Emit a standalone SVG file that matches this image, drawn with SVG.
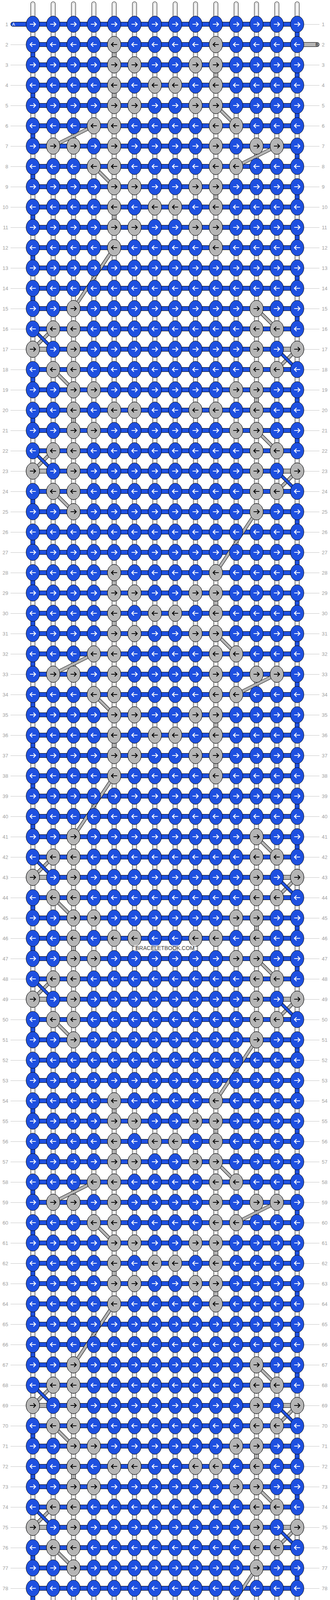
<svg xmlns="http://www.w3.org/2000/svg" width="844" height="4804" viewBox="0 0 844 4804">
<style>
.kb{fill:#1e50e0;stroke:#000;stroke-width:1}
.kg{fill:#b5b5b5;stroke:#000;stroke-width:1}
.aw{fill:none;stroke:#fff;stroke-width:2.2}
.ak{fill:none;stroke:#000;stroke-width:2.2}
.o{fill:none;stroke:#000;stroke-width:12;stroke-linejoin:round;stroke-linecap:round}
.sb{fill:none;stroke:#1e50e0;stroke-width:10;stroke-linejoin:round;stroke-linecap:round}
.sg{fill:none;stroke:#b5b5b5;stroke-width:10;stroke-linejoin:round;stroke-linecap:round}
.to{fill:none;stroke:#000;stroke-width:8.5;stroke-linecap:round}
.tb{fill:none;stroke:#1e50e0;stroke-width:6.5;stroke-linecap:round}
.tg{fill:none;stroke:#b5b5b5;stroke-width:6.5;stroke-linecap:round}
.v1{fill:none;stroke:#000;stroke-width:12;stroke-linecap:round}
.v2{fill:none;stroke:#fff;stroke-width:10;stroke-linecap:round}
.v3{fill:none;stroke:#b0b0b0;stroke-width:6;stroke-linecap:round}
.v4{fill:none;stroke:#fff;stroke-width:4;stroke-linecap:round}
.num{font-family:"Liberation Sans",Arial,sans-serif;font-size:13px;fill:#a0a0a0}
.sl{font-family:"Liberation Sans",Arial,sans-serif;font-size:11px}
</style>
<defs>
<pattern id="gl" patternUnits="userSpaceOnUse" x="0" y="10" width="10" height="52"><rect width="10" height="1" fill="#c4c4c4"/></pattern>
<path id="ar" d="M-7.5 0H6M1.5-5.5L7 0L1.5 5.5"/>
<path id="al" d="M7.5 0H-6M-1.5-5.5L-7 0L-1.5 5.5"/>
<g id="bR"><ellipse class="kb" rx="17.2" ry="21"/><use href="#ar" class="aw"/></g>
<g id="bL"><ellipse class="kb" rx="17.2" ry="21"/><use href="#al" class="aw"/></g>
<g id="gR"><ellipse class="kg" rx="17.2" ry="21"/><use href="#ar" class="ak"/></g>
<g id="gL"><ellipse class="kg" rx="17.2" ry="21"/><use href="#al" class="ak"/></g>
<g id="RR"><use href="#bR" x="84"/><use href="#bR" x="136"/><use href="#bR" x="188"/><use href="#bR" x="240"/><use href="#bR" x="292"/><use href="#bR" x="344"/><use href="#bR" x="396"/><use href="#bR" x="448"/><use href="#bR" x="500"/><use href="#bR" x="552"/><use href="#bR" x="604"/><use href="#bR" x="656"/><use href="#bR" x="708"/><use href="#bR" x="760"/></g>
<g id="RL"><use href="#bL" x="84"/><use href="#bL" x="136"/><use href="#bL" x="188"/><use href="#bL" x="240"/><use href="#bL" x="292"/><use href="#bL" x="344"/><use href="#bL" x="396"/><use href="#bL" x="448"/><use href="#bL" x="500"/><use href="#bL" x="552"/><use href="#bL" x="604"/><use href="#bL" x="656"/><use href="#bL" x="708"/><use href="#bL" x="760"/></g>
<path id="vs" d="M84 10V4792M136 10V4792M188 10V4792M240 10V4792M292 10V4792M344 10V4792M396 10V4792M448 10V4792M500 10V4792M552 10V4792M604 10V4792M656 10V4792M708 10V4792M760 10V4792"/>
<path id="pa" d="M33 62H760v52h-676v52h676v52h-676v52h676v52h-676v52h676v52h-676v52h676v52h-676v52h676v52h-676v52h676v52h-676v52h676v52h-676m52 52h572m52 52h-676v52h676v52h-676v52h676v52h-676m52 52h572m52 52h-676v52h676v52h-676v52h676v52h-676v52h676v52h-676v52h676v52h-676v52h676v52h-676v52h676v52h-676v52h676v52h-676v52h676v52h-676v52h676v52h-676m52 52h572m52 52h-676v52h676v52h-676v52h676v52h-676m52 52h572m52 52h-676v52h676v52h-676v52h676v52h-676v52h676v52h-676v52h676v52h-676v52h676v52h-676v52h676v52h-676v52h676v52h-676v52h676v52h-676v52h676v52h-676m52 52h572m52 52h-676v52h676v52h-676v52h676v52h-676m52 52h572m52 52h-676v52h676v52h-676v52h676v52h-676v52h676v52h-676v52h676v52h-676v52h676v52h-676v52h676v52h-676v52h676H811"/>
<path id="pad" d="M84 842l52 52M708 894l52 52M84 1154l52 52M708 1206l52 52M84 2194l52 52M708 2246l52 52M84 2506l52 52M708 2558l52 52M84 3546l52 52M708 3598l52 52M84 3858l52 52M708 3910l52 52"/>
<path id="pb" d="M811 114H292v52h260v52h-260v52h260m52 52h-364m-104 52h572m-104 52h-364m52 52h260v52h-260v52h260v52h-260m-104 156h468m52 52h-572m-52 52h676m-52 52h-572m52 52h468v52h-468v52h468m52 52h-572m-52 52h676m-52 52h-572m52 52h468m-104 156h-260v52h260v52h-260v52h260m52 52h-364m-104 52h572m-104 52h-364m52 52h260v52h-260v52h260v52h-260m-104 156h468m52 52h-572m-52 52h676m-52 52h-572m52 52h468v52h-468v52h468m52 52h-572m-52 52h676m-52 52h-572m52 52h468m-104 156h-260v52h260v52h-260v52h260m52 52h-364m-104 52h572m-104 52h-364m52 52h260v52h-260v52h260v52h-260m-104 156h468m52 52h-572m-52 52h676m-52 52h-572m52 52h468v52h-468v52h468m52 52h-572m-52 52h676m-52 52h-572m52 52h468m-104 156h-260v52h260v52h-260v52h260m52 52h-364m-104 52h572m-104 52h-364m52 52h260v52h-260v52h260v52h-260H33"/>
<path id="pbd" d="M552 270l52 52M240 322l-104 52M708 374l-104 52M240 426l52 52M292 634l-104 156M656 790l52 52M136 842l-52 52M760 894l-52 52M136 946l52 52M656 1102l52 52M136 1154l-52 52M760 1206l-52 52M136 1258l52 52M656 1310l-104 156M552 1622l52 52M240 1674l-104 52M708 1726l-104 52M240 1778l52 52M292 1986l-104 156M656 2142l52 52M136 2194l-52 52M760 2246l-52 52M136 2298l52 52M656 2454l52 52M136 2506l-52 52M760 2558l-52 52M136 2610l52 52M656 2662l-104 156M552 2974l52 52M240 3026l-104 52M708 3078l-104 52M240 3130l52 52M292 3338l-104 156M656 3494l52 52M136 3546l-52 52M760 3598l-52 52M136 3650l52 52M656 3806l52 52M136 3858l-52 52M760 3910l-52 52M136 3962l52 52M656 4014l-104 156M552 4326l52 52M240 4378l-104 52M708 4430l-104 52M240 4482l52 52"/>
<g id="nums" class="num"><text y="62">1</text><text y="114">2</text><text y="166">3</text><text y="218">4</text><text y="270">5</text><text y="322">6</text><text y="374">7</text><text y="426">8</text><text y="478">9</text><text y="530">10</text><text y="582">11</text><text y="634">12</text><text y="686">13</text><text y="738">14</text><text y="790">15</text><text y="842">16</text><text y="894">17</text><text y="946">18</text><text y="998">19</text><text y="1050">20</text><text y="1102">21</text><text y="1154">22</text><text y="1206">23</text><text y="1258">24</text><text y="1310">25</text><text y="1362">26</text><text y="1414">27</text><text y="1466">28</text><text y="1518">29</text><text y="1570">30</text><text y="1622">31</text><text y="1674">32</text><text y="1726">33</text><text y="1778">34</text><text y="1830">35</text><text y="1882">36</text><text y="1934">37</text><text y="1986">38</text><text y="2038">39</text><text y="2090">40</text><text y="2142">41</text><text y="2194">42</text><text y="2246">43</text><text y="2298">44</text><text y="2350">45</text><text y="2402">46</text><text y="2454">47</text><text y="2506">48</text><text y="2558">49</text><text y="2610">50</text><text y="2662">51</text><text y="2714">52</text><text y="2766">53</text><text y="2818">54</text><text y="2870">55</text><text y="2922">56</text><text y="2974">57</text><text y="3026">58</text><text y="3078">59</text><text y="3130">60</text><text y="3182">61</text><text y="3234">62</text><text y="3286">63</text><text y="3338">64</text><text y="3390">65</text><text y="3442">66</text><text y="3494">67</text><text y="3546">68</text><text y="3598">69</text><text y="3650">70</text><text y="3702">71</text><text y="3754">72</text><text y="3806">73</text><text y="3858">74</text><text y="3910">75</text><text y="3962">76</text><text y="4014">77</text><text y="4066">78</text><text y="4118">79</text><text y="4170">80</text><text y="4222">81</text><text y="4274">82</text><text y="4326">83</text><text y="4378">84</text><text y="4430">85</text><text y="4482">86</text><text y="4534">87</text><text y="4586">88</text><text y="4638">89</text><text y="4690">90</text><text y="4742">91</text></g>
</defs>
<rect width="844" height="4804" fill="#fff"/>
<g id="labels">
<rect x="27" y="60" width="39" height="4690" fill="url(#gl)"/>
<rect x="778" y="60" width="39" height="4690" fill="url(#gl)"/>
<use href="#nums" x="21" y="4.5" style="text-anchor:end"/>
<use href="#nums" x="823" y="4.5" style="text-anchor:start"/>
</g>
<g id="connectors">
<use href="#vs" class="v1"/><use href="#vs" class="v2"/><use href="#vs" class="v3"/><use href="#vs" class="v4"/>
<use href="#pb" class="o"/><use href="#pb" class="sg"/>
<use href="#pa" class="o"/><use href="#pa" class="sb"/>
<use href="#pbd" class="to"/><use href="#pbd" class="tg"/>
<use href="#pad" class="to"/><use href="#pad" class="tb"/>
<text class="sl" x="31" y="66" fill="#fff">A</text>
<text class="sl" x="807" y="118" fill="#000">B</text>
<text class="sl" x="31" y="4694" fill="#000">B</text>
<text class="sl" x="807" y="4746" fill="#fff">A</text>
</g>
<g id="knots">
<g id="h1">
<g id="row1" transform="translate(0 62)"><use href="#RR"/></g>
<g id="row2" transform="translate(0 114)"><use href="#RL"/><use href="#gL" x="292"/><use href="#gL" x="552"/></g>
<g id="row3" transform="translate(0 166)"><use href="#RR"/><use href="#gR" x="292"/><use href="#gR" x="344"/><use href="#gR" x="500"/><use href="#gR" x="552"/></g>
<g id="row4" transform="translate(0 218)"><use href="#RL"/><use href="#gL" x="292"/><use href="#gL" x="396"/><use href="#gL" x="448"/><use href="#gL" x="552"/></g>
<g id="row5" transform="translate(0 270)"><use href="#RR"/><use href="#gR" x="292"/><use href="#gR" x="344"/><use href="#gR" x="500"/><use href="#gR" x="552"/></g>
<g id="row6" transform="translate(0 322)"><use href="#RL"/><use href="#gL" x="240"/><use href="#gL" x="292"/><use href="#gL" x="552"/><use href="#gL" x="604"/></g>
<g id="row7" transform="translate(0 374)"><use href="#RR"/><use href="#gR" x="136"/><use href="#gR" x="188"/><use href="#gR" x="292"/><use href="#gR" x="552"/><use href="#gR" x="656"/><use href="#gR" x="708"/></g>
<g id="row8" transform="translate(0 426)"><use href="#RL"/><use href="#gL" x="240"/><use href="#gL" x="292"/><use href="#gL" x="552"/><use href="#gL" x="604"/></g>
<g id="row9" transform="translate(0 478)"><use href="#RR"/><use href="#gR" x="292"/><use href="#gR" x="344"/><use href="#gR" x="500"/><use href="#gR" x="552"/></g>
<g id="row10" transform="translate(0 530)"><use href="#RL"/><use href="#gL" x="292"/><use href="#gL" x="396"/><use href="#gL" x="448"/><use href="#gL" x="552"/></g>
<g id="row11" transform="translate(0 582)"><use href="#RR"/><use href="#gR" x="292"/><use href="#gR" x="344"/><use href="#gR" x="500"/><use href="#gR" x="552"/></g>
<g id="row12" transform="translate(0 634)"><use href="#RL"/><use href="#gL" x="292"/><use href="#gL" x="552"/></g>
<g id="row13" transform="translate(0 686)"><use href="#RR"/></g>
</g>
<g id="h2">
<g id="row14" transform="translate(0 738)"><use href="#RL"/></g>
<g id="row15" transform="translate(0 790)"><use href="#RR"/><use href="#gR" x="188"/><use href="#gR" x="656"/></g>
<g id="row16" transform="translate(0 842)"><use href="#RL"/><use href="#gL" x="136"/><use href="#gL" x="188"/><use href="#gL" x="656"/><use href="#gL" x="708"/></g>
<g id="row17" transform="translate(0 894)"><use href="#RR"/><use href="#gR" x="84"/><use href="#gR" x="188"/><use href="#gR" x="656"/><use href="#gR" x="760"/></g>
<g id="row18" transform="translate(0 946)"><use href="#RL"/><use href="#gL" x="136"/><use href="#gL" x="188"/><use href="#gL" x="656"/><use href="#gL" x="708"/></g>
<g id="row19" transform="translate(0 998)"><use href="#RR"/><use href="#gR" x="188"/><use href="#gR" x="240"/><use href="#gR" x="604"/><use href="#gR" x="656"/></g>
<g id="row20" transform="translate(0 1050)"><use href="#RL"/><use href="#gL" x="188"/><use href="#gL" x="292"/><use href="#gL" x="344"/><use href="#gL" x="500"/><use href="#gL" x="552"/><use href="#gL" x="656"/></g>
<g id="row21" transform="translate(0 1102)"><use href="#RR"/><use href="#gR" x="188"/><use href="#gR" x="240"/><use href="#gR" x="604"/><use href="#gR" x="656"/></g>
<g id="row22" transform="translate(0 1154)"><use href="#RL"/><use href="#gL" x="136"/><use href="#gL" x="188"/><use href="#gL" x="656"/><use href="#gL" x="708"/></g>
<g id="row23" transform="translate(0 1206)"><use href="#RR"/><use href="#gR" x="84"/><use href="#gR" x="188"/><use href="#gR" x="656"/><use href="#gR" x="760"/></g>
<g id="row24" transform="translate(0 1258)"><use href="#RL"/><use href="#gL" x="136"/><use href="#gL" x="188"/><use href="#gL" x="656"/><use href="#gL" x="708"/></g>
<g id="row25" transform="translate(0 1310)"><use href="#RR"/><use href="#gR" x="188"/><use href="#gR" x="656"/></g>
<g id="row26" transform="translate(0 1362)"><use href="#RL"/></g>
</g>
<use id="rows27-39" href="#h1" y="1352"/>
<use id="rows40-52" href="#h2" y="1352"/>
<use id="rows53-65" href="#h1" y="2704"/>
<use id="rows66-78" href="#h2" y="2704"/>
<use id="rows79-91" href="#h1" y="4056"/>
</g>
<g id="watermark">
<rect x="343" y="2419" width="158" height="16" fill="#fff" fill-opacity="0.55"/>
<text x="422" y="2432" text-anchor="middle" font-family="'Liberation Sans',Arial,sans-serif" font-size="14" fill="#3c3c3c">BRACELETBOOK.COM</text>
</g>
</svg>
